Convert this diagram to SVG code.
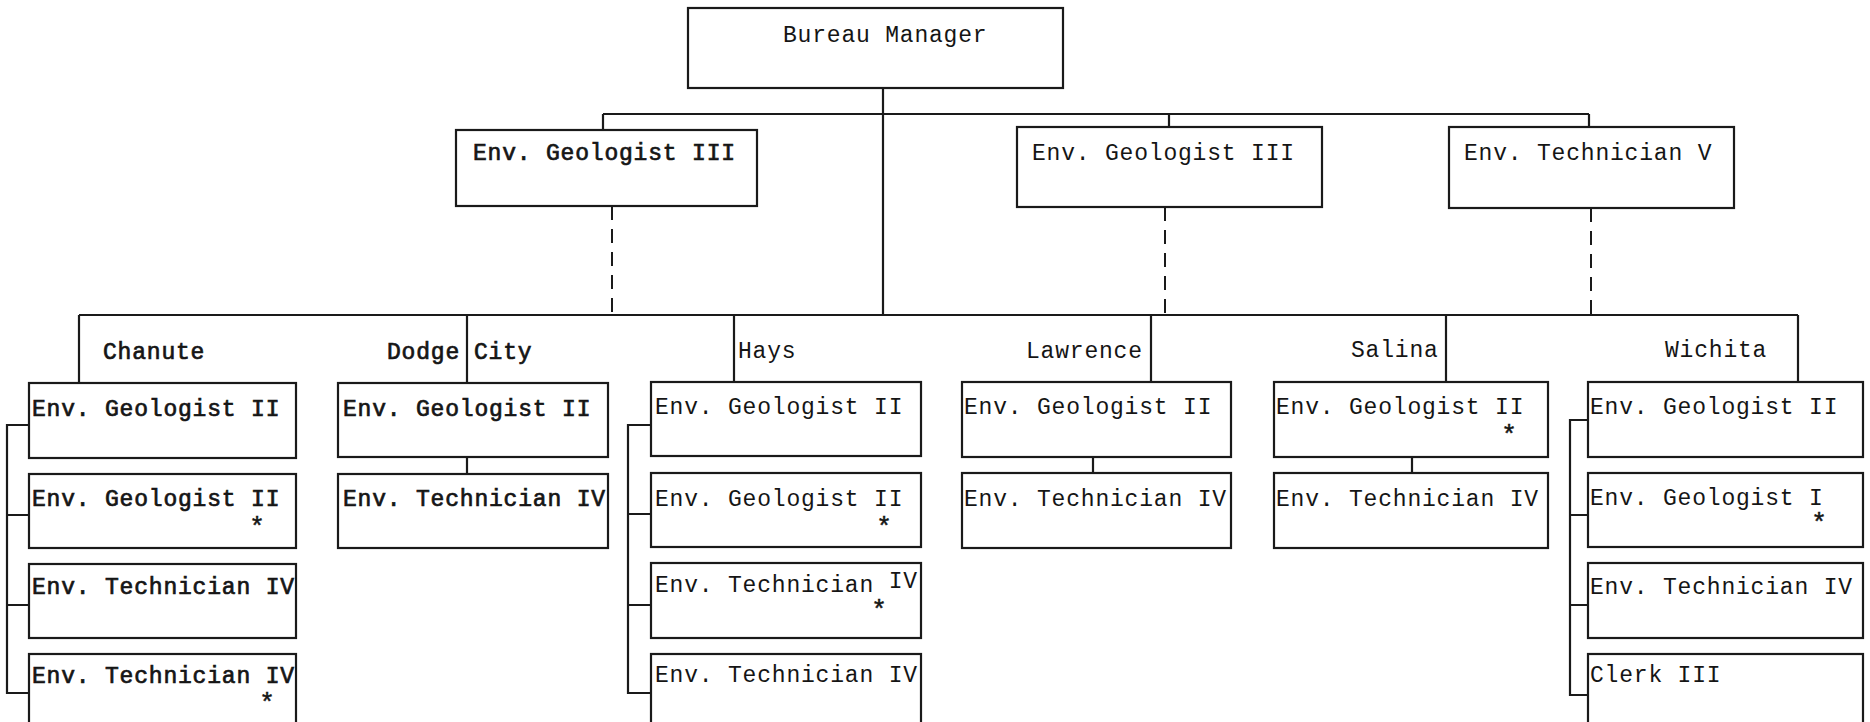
<svg xmlns="http://www.w3.org/2000/svg" width="1870" height="722" viewBox="0 0 1870 722">
<style>
.bx{fill:#fff;stroke:#1a1a1a;stroke-width:2.2}
.ln{fill:none;stroke:#1a1a1a;stroke-width:2.2}
.ds{fill:none;stroke:#1a1a1a;stroke-width:2;stroke-dasharray:14 9}
.t{font-family:"Liberation Mono","DejaVu Sans Mono",monospace;font-size:23px;letter-spacing:0.8px;fill:#151515}
.b{stroke:#151515;stroke-width:0.7}
.s{font-family:"Liberation Mono","DejaVu Sans Mono",monospace;font-size:26px;fill:#151515;text-anchor:middle;stroke:#151515;stroke-width:0.5}
</style>
<rect width="1870" height="722" fill="#fff"/>
<g id="connectors">
<path class="ln" d="M883 88V315M603 114H1589M603 114V130M1169 114V127M1589 114V127"/>
<path class="ds" d="M612 206V315M1165 207V315M1591 208V315"/>
<path class="ln" d="M79 315H1798M79 315V383M467 315V383M734 315V382M1151 315V382M1446 315V382M1798 315V382"/>
<path class="ln" d="M467 457V474M1093 457V473M1412 457V473"/>
<path class="ln" d="M29 425H7V693H29M7 515H29M7 605H29"/>
<path class="ln" d="M651 425H628V693H651M628 514H651M628 605H651"/>
<path class="ln" d="M1588 420H1570V695H1588M1570 515H1588M1570 605H1588"/>
</g>
<g id="bureau-manager"><rect class="bx" x="688" y="8" width="375" height="80"/><text class="t" x="783" y="42">Bureau Manager</text></g>
<g id="geologist-iii-a"><rect class="bx" x="456" y="130" width="301" height="76"/><text class="t b" x="473" y="160">Env. Geologist III</text></g>
<g id="geologist-iii-b"><rect class="bx" x="1017" y="127" width="305" height="80"/><text class="t" x="1032" y="160">Env. Geologist III</text></g>
<g id="technician-v"><rect class="bx" x="1449" y="127" width="285" height="81"/><text class="t" x="1464" y="160">Env. Technician V</text></g>
<g id="labels">
<text class="t b" x="103" y="359">Chanute</text>
<text class="t b" x="387" y="359">Dodge</text>
<text class="t b" x="474" y="359">City</text>
<text class="t" x="738" y="358">Hays</text>
<text class="t" x="1026" y="358">Lawrence</text>
<text class="t" x="1351" y="357">Salina</text>
<text class="t" x="1665" y="357">Wichita</text>
</g>
<g id="chanute-1"><rect class="bx" x="29" y="383" width="267" height="75"/><text class="t b" x="32" y="416">Env. Geologist II</text></g>
<g id="chanute-2"><rect class="bx" x="29" y="474" width="267" height="74"/><text class="t b" x="32" y="506">Env. Geologist II</text><text class="s" x="257" y="535">*</text></g>
<g id="chanute-3"><rect class="bx" x="29" y="564" width="267" height="74"/><text class="t b" x="32" y="594">Env. Technician IV</text></g>
<g id="chanute-4"><rect class="bx" x="29" y="654" width="267" height="90"/><text class="t b" x="32" y="683">Env. Technician IV</text><text class="s" x="267" y="711">*</text></g>
<g id="dodge-1"><rect class="bx" x="338" y="383" width="270" height="74"/><text class="t b" x="343" y="416">Env. Geologist II</text></g>
<g id="dodge-2"><rect class="bx" x="338" y="474" width="270" height="74"/><text class="t b" x="343" y="506">Env. Technician IV</text></g>
<g id="hays-1"><rect class="bx" x="651" y="382" width="270" height="74"/><text class="t" x="655" y="414">Env. Geologist II</text></g>
<g id="hays-2"><rect class="bx" x="651" y="473" width="270" height="74"/><text class="t" x="655" y="506">Env. Geologist II</text><text class="s" x="884" y="535">*</text></g>
<g id="hays-3"><rect class="bx" x="651" y="563" width="270" height="75"/><text class="t" x="655" y="592">Env. Technician <tspan dy="-4">IV</tspan></text><text class="s" x="879" y="618">*</text></g>
<g id="hays-4"><rect class="bx" x="651" y="654" width="270" height="90"/><text class="t" x="655" y="682">Env. Technician IV</text></g>
<g id="lawrence-1"><rect class="bx" x="962" y="382" width="269" height="75"/><text class="t" x="964" y="414">Env. Geologist II</text></g>
<g id="lawrence-2"><rect class="bx" x="962" y="473" width="269" height="75"/><text class="t" x="964" y="506">Env. Technician IV</text></g>
<g id="salina-1"><rect class="bx" x="1274" y="382" width="274" height="75"/><text class="t" x="1276" y="414">Env. Geologist II</text><text class="s" x="1509" y="443">*</text></g>
<g id="salina-2"><rect class="bx" x="1274" y="473" width="274" height="75"/><text class="t" x="1276" y="506">Env. Technician IV</text></g>
<g id="wichita-1"><rect class="bx" x="1588" y="382" width="275" height="75"/><text class="t" x="1590" y="414">Env. Geologist II</text></g>
<g id="wichita-2"><rect class="bx" x="1588" y="473" width="275" height="74"/><text class="t" x="1590" y="505">Env. Geologist I</text><text class="s" x="1819" y="531">*</text></g>
<g id="wichita-3"><rect class="bx" x="1588" y="563" width="275" height="75"/><text class="t" x="1590" y="594">Env. Technician IV</text></g>
<g id="wichita-4"><rect class="bx" x="1588" y="654" width="275" height="90"/><text class="t" x="1590" y="682">Clerk III</text></g>
</svg>
